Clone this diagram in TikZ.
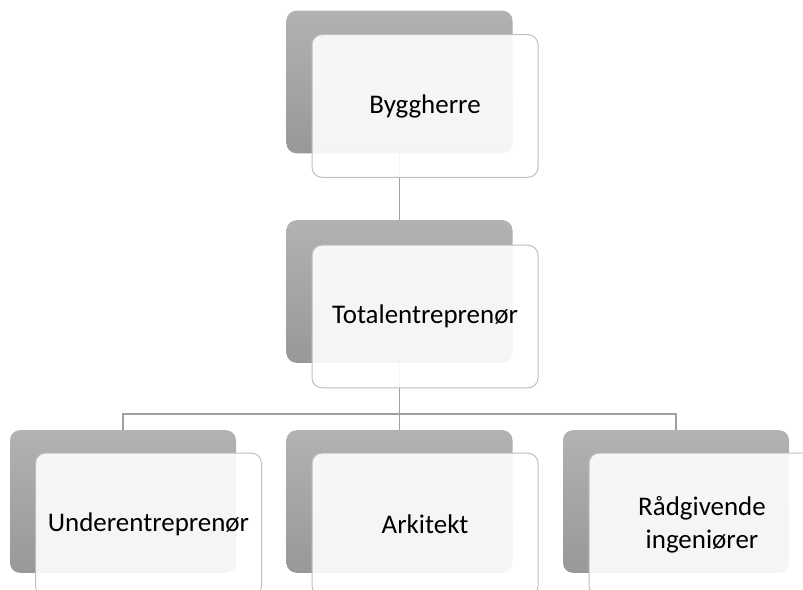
\documentclass[tikz,border=0pt]{standalone}
\usepackage{fontspec}
\setmainfont{Carlito}

\definecolor{backtop}{RGB}{178,178,178}
\definecolor{backbot}{RGB}{152,152,152}
\definecolor{cardline}{RGB}{191,191,191}
\definecolor{linkgray}{RGB}{160,160,160}

\begin{document}
\begin{tikzpicture}[x=0.75pt,y=-0.75pt,
  back/.style={rounded corners=7.5pt,inner sep=0pt,minimum width=169.5pt,minimum height=107pt,top color=backtop,bottom color=backbot},
  card/.style={draw=cardline,line width=0.75pt,rounded corners=7.5pt,fill=white,fill opacity=0.9,text opacity=1,inner sep=0pt,minimum width=169.5pt,minimum height=107pt,align=center,font=\fontsize{20.2}{24.5}\selectfont},
  link/.style={draw=linkgray,line width=1.1pt}]
  \clip (0,0) rectangle (803,589);
  % grey back plates
  \node[back] (byggbg) at (399.5,82) {};
  \node[back] (totalbg) at (399.5,291.5) {};
  \node[back] (underbg) at (123,501.5) {};
  \node[back] (arkbg) at (399.5,501.5) {};
  \node[back] (radbg) at (676,501.5) {};
  % tree lines
  \coordinate (split) at (399.5,414);
  \draw[link] (byggbg.south) -- (totalbg.north);
  \draw[link] (totalbg.south) -- (arkbg.north);
  \draw[link] (underbg.north) |- (split) -| (radbg.north);
  % front cards
  \node[card] (bygg) at (425,106) {Byggherre};
  \node[card] (total) at (425,316.5) {Totalentreprenør};
  \node[card] (under) at (148.5,524.5) {Underentreprenør};
  \node[card] (ark) at (425,524.5) {Arkitekt};
  \node[card] (rad) at (702,524.5) {Rådgivende\\ingeniører};
\end{tikzpicture}
\end{document}
